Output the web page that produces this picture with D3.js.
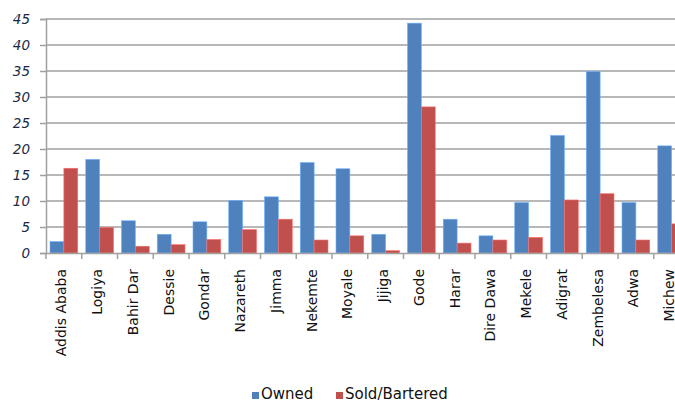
<!DOCTYPE html>
<html>
<head>
<meta charset="utf-8">
<script src="https://cdn.jsdelivr.net/npm/d3@7"></script>
<style>
  html, body { margin: 0; padding: 0; background: #fff; overflow: hidden; }
  svg { display: block; }
</style>
</head>
<body>
<svg id="chart" width="675" height="405"></svg>
<script>
// Livestock ownership by town (percent)
const towns = ["Addis Ababa", "Logiya", "Bahir Dar", "Dessie", "Gondar", "Nazareth",
  "Jimma", "Nekemte", "Moyale", "Jijiga", "Gode", "Harar", "Dire Dawa", "Mekele",
  "Adigrat", "Zembelesa", "Adwa", "Michew"];
const owned = [2.2, 18.0, 6.2, 3.6, 6.0, 10.1, 10.8, 17.4, 16.2, 3.6, 44.2, 6.5, 3.3, 9.7, 22.6, 34.9, 9.7, 20.6];
const soldBartered = [16.3, 4.9, 1.3, 1.6, 2.6, 4.5, 6.5, 2.5, 3.3, 0.45, 28.1, 1.9, 2.5, 3.0, 10.2, 11.4, 2.5, 5.6];
const seriesNames = ["Owned", "Sold/Bartered"];
const seriesColors = ["#4F81BD", "#C0504D"];
const yTicks = [0, 5, 10, 15, 20, 25, 30, 35, 40, 45];

const svg = d3.select("#chart");
const plotLeft = 46, plotRight = 689.5, plotTop = 19, plotBottom = 253;

const x = d3.scaleBand().domain(towns).range([plotLeft, plotRight]).padding(0);
const xs = d3.scaleBand().domain(seriesNames).range([4, x.bandwidth() - 4]).padding(0);
const y = d3.scaleLinear().domain([0, 45]).range([plotBottom, plotTop]);

// horizontal gridlines
svg.append("g")
  .selectAll("line")
  .data(yTicks.filter(d => d > 0))
  .join("line")
  .attr("x1", plotLeft).attr("x2", 675)
  .attr("y1", d => y(d)).attr("y2", d => y(d))
  .attr("stroke", "#a0a0a0").attr("stroke-width", 1.5);

// bars
const groups = svg.append("g")
  .selectAll("g")
  .data(towns.map((t, i) => ({ town: t, vals: [owned[i], soldBartered[i]] })))
  .join("g")
  .attr("transform", d => `translate(${x(d.town)},0)`);

groups.selectAll("rect")
  .data(d => d.vals.map((v, j) => ({ v, s: seriesNames[j], c: seriesColors[j] })))
  .join("rect")
  .attr("x", d => xs(d.s))
  .attr("width", xs.bandwidth())
  .attr("y", d => y(d.v))
  .attr("height", d => plotBottom - y(d.v))
  .attr("fill", d => d.c)
  .attr("stroke", d => d3.color(d.c).brighter(0.9))
  .attr("stroke-width", 0.6);

// y axis
const yAxis = svg.append("g")
  .attr("transform", `translate(${plotLeft},0)`)
  .call(d3.axisLeft(y).tickValues(yTicks).tickSize(6).tickPadding(10));
yAxis.select(".domain").attr("stroke", "#a0a0a0").attr("stroke-width", 1.5);
yAxis.selectAll(".tick line").attr("stroke", "#a0a0a0").attr("stroke-width", 1.5);
yAxis.selectAll(".tick text")
  .attr("font-family", "'DejaVu Sans', sans-serif")
  .attr("font-size", 13.5)
  .attr("font-style", "italic")
  .attr("fill", "#1c2a48");

// x axis
const xAxis = svg.append("g")
  .attr("transform", `translate(0,${plotBottom})`)
  .call(d3.axisBottom(x).tickSize(0).tickFormat(""));
xAxis.select(".domain").attr("stroke", "#a0a0a0").attr("stroke-width", 1.5);
// category boundary ticks
svg.append("g")
  .selectAll("line")
  .data(towns.map((t, i) => i))
  .join("line")
  .attr("x1", i => plotLeft + i * x.step()).attr("x2", i => plotLeft + i * x.step())
  .attr("y1", plotBottom).attr("y2", plotBottom + 6)
  .attr("stroke", "#a0a0a0").attr("stroke-width", 1.5);

// rotated category labels
svg.append("g")
  .selectAll("text")
  .data(towns)
  .join("text")
  .attr("transform", d => `translate(${x(d) + x.bandwidth() / 2 + 2.5},${plotBottom + 16}) rotate(-90)`)
  .attr("text-anchor", "end")
  .attr("font-family", "'DejaVu Sans', sans-serif")
  .attr("font-size", 14)
  .attr("fill", "#111")
  .text(d => d);

// legend
const legendItems = [
  { name: seriesNames[0], color: seriesColors[0], x: 252 },
  { name: seriesNames[1], color: seriesColors[1], x: 336 }
];
const lg = svg.append("g").selectAll("g").data(legendItems).join("g")
  .attr("transform", d => `translate(${d.x},399)`);
lg.append("rect").attr("x", 0).attr("y", -7).attr("width", 7).attr("height", 7)
  .attr("fill", d => d.color);
lg.append("text").attr("x", 9).attr("y", 0)
  .attr("font-family", "'DejaVu Sans', sans-serif")
  .attr("font-size", 15)
  .attr("fill", "#111")
  .text(d => d.name);
</script>
</body>
</html>
